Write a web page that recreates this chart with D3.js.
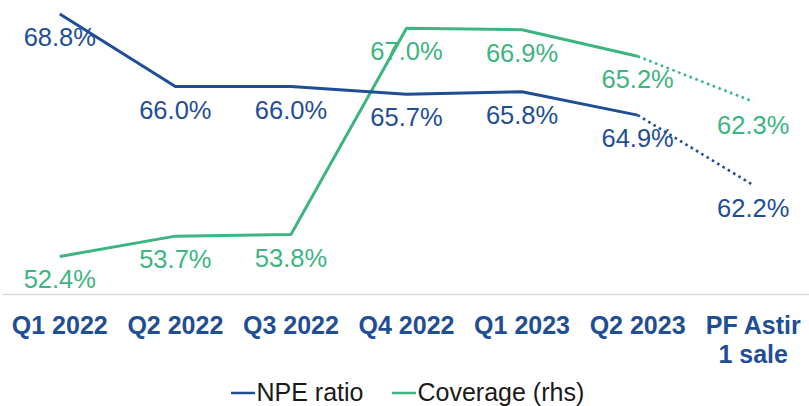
<!DOCTYPE html>
<html>
<head>
<meta charset="utf-8">
<script src="https://cdn.jsdelivr.net/npm/d3@7"></script>
<style>
  html, body { margin: 0; padding: 0; background: #fff; }
  svg { display: block; font-family: Arial, "Liberation Sans", sans-serif; }
</style>
</head>
<body>
<svg id="chart" width="809" height="406"></svg>
<script>
// Quarterly NPE ratio (left axis) and coverage (right axis), with a pro-forma point
const categories = ["Q1 2022", "Q2 2022", "Q3 2022", "Q4 2022", "Q1 2023", "Q2 2023", "PF Astir\n1 sale"];
const npeRatio = [68.8, 66.0, 66.0, 65.7, 65.8, 64.9, 62.2];
const coverage = [52.4, 53.7, 53.8, 67.0, 66.9, 65.2, 62.3];
const seriesNames = ["NPE ratio", "Coverage (rhs)"];

const BLUE = "#1f4e96";
const GREEN = "#3db580";

const W = 809, H = 406;
const plotTop = 0, plotBottom = 294;

const svg = d3.select("#chart");

const x = d3.scaleBand().domain(categories).range([2, 811]);
const cx = c => x(c) + x.bandwidth() / 2;

const yLeft = d3.scaleLinear().domain([58, 69.34]).range([plotBottom, plotTop]);
const yRight = d3.scaleLinear().domain([50, 68.8]).range([plotBottom, plotTop]);

// category axis
const axis = svg.append("g")
  .attr("transform", `translate(0,${plotBottom})`)
  .call(d3.axisBottom(x).tickSize(0).tickFormat(""));
axis.select(".domain").attr("stroke", "#d9d9d9").attr("stroke-width", 1.3);

const labels = svg.append("g");
categories.forEach(c => {
  const t = labels.append("text")
    .attr("x", cx(c))
    .attr("y", 334)
    .attr("text-anchor", "middle")
    .attr("font-size", 25)
    .attr("font-weight", "bold")
    .attr("fill", BLUE);
  c.split("\n").forEach((line, i) => {
    t.append("tspan").attr("x", cx(c)).attr("dy", i === 0 ? 0 : 29).text(line);
  });
});

// draw one series: solid through Q2 2023, dotted to the pro-forma point
function drawSeries(values, y, color) {
  const pts = categories.map((c, i) => [cx(c), y(values[i])]);
  const line = d3.line();
  const last = pts.length - 1;
  svg.append("path")
    .attr("d", line(pts.slice(0, last)))
    .attr("fill", "none")
    .attr("stroke", color)
    .attr("stroke-width", 3)
    .attr("stroke-linejoin", "round");
  svg.append("path")
    .attr("d", line(pts.slice(last - 1)))
    .attr("fill", "none")
    .attr("stroke", color)
    .attr("stroke-width", 2.6)
    .attr("stroke-dasharray", "2.6 3.6");
  svg.append("g").selectAll("text")
    .data(values)
    .join("text")
    .attr("x", (d, i) => cx(categories[i]))
    .attr("y", d => y(d) + 32)
    .attr("text-anchor", "middle")
    .attr("font-size", 25.5)
    .attr("fill", color)
    .text(d => d.toFixed(1) + "%");
}

drawSeries(coverage, yRight, GREEN);
drawSeries(npeRatio, yLeft, BLUE);

// legend
const legend = svg.append("g");
const legendItems = [
  { name: seriesNames[0], color: BLUE, x: 231 },
  { name: seriesNames[1], color: GREEN, x: 392 }
];
legendItems.forEach(item => {
  legend.append("line")
    .attr("x1", item.x).attr("x2", item.x + 24)
    .attr("y1", 393).attr("y2", 393)
    .attr("stroke", item.color)
    .attr("stroke-width", 2.5);
  legend.append("text")
    .attr("x", item.x + 25.5)
    .attr("y", 401)
    .attr("font-size", 25)
    .attr("fill", "#1a1a1a")
    .text(item.name);
});
</script>
</body>
</html>
